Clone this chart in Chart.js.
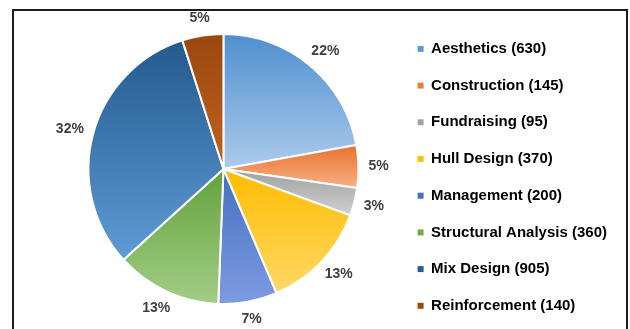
<!DOCTYPE html>
<html>
<head>
<meta charset="utf-8">
<script src="https://cdn.jsdelivr.net/npm/chart.js@4/dist/chart.umd.min.js"></script>
<style>
  html, body { margin: 0; padding: 0; background: #fff; overflow: hidden; }
  #frame {
    position: absolute; left: 12px; top: 9px;
    width: 612px; height: 340px;
    border: 2px solid #1c1c1c;
  }
  /* canvas runs a little past the bottom of the window, like the cropped frame */
  #wrap { position: absolute; left: 0; top: 0; width: 630px; height: 345px; }
</style>
</head>
<body>
<div id="frame"></div>
<div id="wrap"><canvas id="pie"></canvas></div>
<script>
// Categories and counts (legend shows the raw count)
const categories = ['Aesthetics', 'Construction', 'Fundraising', 'Hull Design',
                    'Management', 'Structural Analysis', 'Mix Design', 'Reinforcement'];
const counts = [630, 145, 95, 370, 200, 360, 905, 140];

// Slice colours: solid for legend, dark (top) / light (bottom) for gradient fill
const baseColors  = ['#5b9bd5', '#ed7d31', '#a5a5a5', '#ffc000', '#4472c4', '#70ad47', '#255e91', '#9e480e'];
const darkColors  = ['#4f8fd0', '#e97131', '#a0a0a0', '#ffbc00', '#4470c2', '#62a23c', '#245a8d', '#9a470f'];
const lightColors = ['#adcbec', '#f6b083', '#d0d0d0', '#ffd966', '#7e9be0', '#a3cd86', '#5f9bd6', '#c0631f'];

const total = counts.reduce((a, b) => a + b, 0);
const PIE_RADIUS = 135;

// Vertical gradient per slice, fitted to the slice's own top/bottom
function sliceGradient(context) {
    const chart = context.chart;
    const area = chart.chartArea;
    const i = context.dataIndex;
    if (!area || i === undefined) return baseColors[i] || '#999';
    const cx = (area.left + area.right) / 2;
    const cy = (area.top + area.bottom) / 2;
    let before = 0;
    for (let k = 0; k < i; k++) before += counts[k];
    const a0 = -Math.PI / 2 + before / total * Math.PI * 2;
    const a1 = a0 + counts[i] / total * Math.PI * 2;
    let ys = [cy, cy + Math.sin(a0) * PIE_RADIUS, cy + Math.sin(a1) * PIE_RADIUS];
    [-Math.PI / 2, Math.PI / 2, Math.PI * 1.5].forEach(a => {
        if (a > a0 && a < a1) ys.push(cy + Math.sin(a) * PIE_RADIUS);
    });
    const minY = Math.min(...ys), maxY = Math.max(...ys);
    const g = chart.ctx.createLinearGradient(0, minY, 0, maxY + 0.01);
    g.addColorStop(0, darkColors[i]);
    g.addColorStop(1, lightColors[i]);
    return g;
}

// Percent labels just outside each slice
const outsideLabels = {
    id: 'outsideLabels',
    afterDatasetsDraw(chart) {
        const ctx = chart.ctx;
        const meta = chart.getDatasetMeta(0);
        ctx.save();
        ctx.font = 'bold 14px "Liberation Sans", Arial, sans-serif';
        ctx.fillStyle = '#404040';
        ctx.textAlign = 'center';
        ctx.textBaseline = 'middle';
        meta.data.forEach((arc, i) => {
            const p = arc.getProps(['x', 'y', 'startAngle', 'endAngle', 'outerRadius'], true);
            const mid = (p.startAngle + p.endAngle) / 2;
            const pct = Math.round(counts[i] / total * 100) + '%';
            const w = ctx.measureText(pct).width;
            const d = p.outerRadius + 10;
            const x = p.x + Math.cos(mid) * d + Math.cos(mid) * w / 2;
            const y = p.y + Math.sin(mid) * d + Math.sin(mid) * 8;
            ctx.fillText(pct, x, y);
        });
        ctx.restore();
    }
};

const chart = new Chart(document.getElementById('pie'), {
    type: 'pie',
    data: {
        labels: categories,
        datasets: [{
            data: counts,
            backgroundColor: sliceGradient,
            borderColor: '#ffffff',
            borderWidth: 2
        }]
    },
    options: {
        responsive: true,
        maintainAspectRatio: false,
        animation: false,
        radius: PIE_RADIUS,
        layout: { padding: { left: 51, right: 13, top: 3, bottom: 10 } },
        plugins: {
            tooltip: { enabled: false },
            legend: {
                position: 'right',
                align: 'end',
                labels: {
                    boxWidth: 6,
                    boxHeight: 6,
                    padding: 21.7,
                    color: '#404040',
                    font: { family: '"Liberation Sans", Arial, sans-serif', size: 15, weight: 'bold' },
                    generateLabels: () => categories.map((c, i) => ({
                        text: c + ' (' + counts[i] + ')',
                        fillStyle: baseColors[i],
                        strokeStyle: baseColors[i],
                        lineWidth: 0,
                        index: i
                    }))
                }
            }
        }
    },
    plugins: [outsideLabels]
});
</script>
</body>
</html>
